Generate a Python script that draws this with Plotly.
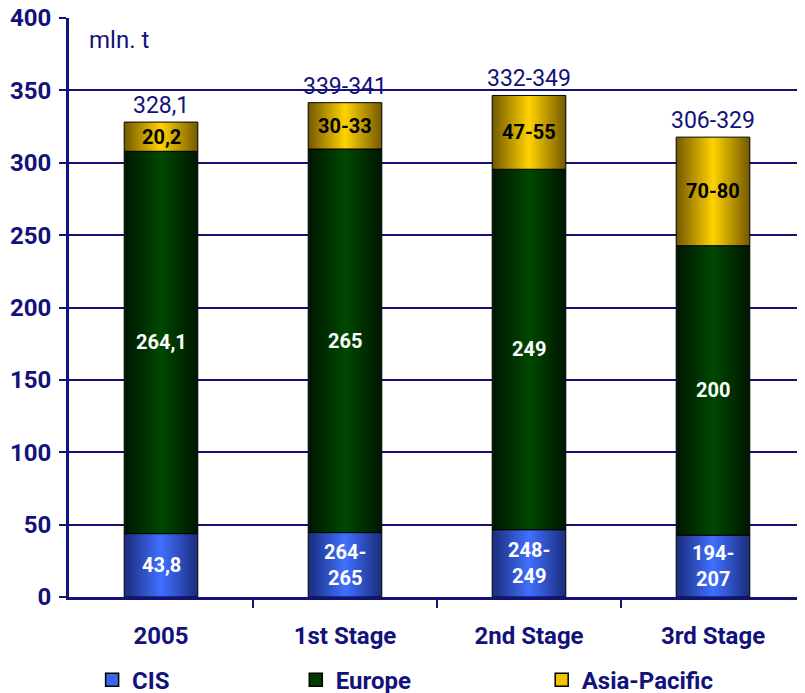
import plotly.graph_objects as go

categories = ["2005", "1st Stage", "2nd Stage", "3rd Stage"]
cis = [43.8, 44.5, 46.5, 42.7]
europe = [264.1, 265, 249, 200]
asia = [20.2, 32, 51, 75]

cis_labels = ["43,8", "264-<br>265", "248-<br>249", "194-<br>207"]
europe_labels = ["264,1", "265", "249", "200"]
asia_labels = ["20,2", "30-33", "47-55", "70-80"]
total_labels = ["328,1", "339-341", "332-349", "306-329"]

y_ticks = [0, 50, 100, 150, 200, 250, 300, 350, 400]

NAVY = "#12127a"
FONT = "Roboto"
HW = 0.2  # half bar width in category units

series = [
    ("CIS", cis, cis_labels, "white",
     [[0, "#1a2c7c"], [0.5, "#4070ff"], [1, "#1a2c7c"]], "#3a66f0", 0.1045),
    ("Europe", europe, europe_labels, "white",
     [[0, "#001600"], [0.5, "#004800"], [1, "#001600"]], "#003a00", 0.3575),
    ("Asia-Pacific", asia, asia_labels, "black",
     [[0, "#745800"], [0.5, "#ffd300"], [1, "#745800"]], "#f0c400", 0.663),
]
legend_ids = ["legend", "legend2", "legend3"]

fig = go.Figure()
annotations = []
bases = [0.0] * len(categories)
legend_layout = {}
for k, (name, vals, labels, tcolor, cscale, solid, lx) in enumerate(series):
    for i, v in enumerate(vals):
        b = bases[i]
        t = b + v
        fig.add_trace(go.Scatter(
            x=[i - HW, i + HW, i + HW, i - HW, i - HW],
            y=[b, b, t, t, b],
            mode="lines", fill="toself",
            fillgradient=dict(type="horizontal", colorscale=cscale),
            line=dict(color="#000000", width=1),
            hoverinfo="skip", showlegend=False,
        ))
        annotations.append(dict(
            x=i, y=(b + t) / 2, xref="x", yref="y", text=labels[i],
            showarrow=False, font=dict(family=FONT, size=20, color=tcolor, weight="bold"),
        ))
        bases[i] = t
    fig.add_trace(go.Scatter(
        x=[None], y=[None], mode="markers", name=name, legend=legend_ids[k],
        marker=dict(symbol="square", size=13, color=solid, line=dict(color="#000000", width=1.5)),
    ))
    legend_layout[legend_ids[k]] = dict(
        orientation="h", xref="container", yref="container",
        x=lx, y=0.03, xanchor="left", yanchor="middle",
        font=dict(family=FONT, size=24, color=NAVY, weight="bold"),
        bgcolor="rgba(0,0,0,0)", itemwidth=30,
    )

for i, lab in enumerate(total_labels):
    annotations.append(dict(
        x=i, y=bases[i], xref="x", yref="y", text=lab, showarrow=False,
        yanchor="bottom", yshift=1,
        font=dict(family=FONT, size=23, color=NAVY),
    ))

annotations.append(dict(
    x=0.0245, y=0.962, xref="paper", yref="paper", text="mln. t", showarrow=False,
    xanchor="left", yanchor="middle", font=dict(family=FONT, size=24, color=NAVY),
))

fig.update_layout(
    width=805, height=693,
    margin=dict(l=61, r=8, t=10, b=104, autoexpand=False),
    plot_bgcolor="white", paper_bgcolor="white",
    annotations=annotations,
    **legend_layout,
    xaxis=dict(
        range=[-0.5, 3.5], tickvals=list(range(len(categories))), ticktext=categories,
        ticks="", showgrid=False, zeroline=False, automargin=False,
        showline=True, linecolor=NAVY, linewidth=3,
        minor=dict(tickvals=[0.5, 1.5, 2.5, 3.5], ticks="outside", ticklen=8,
                   tickwidth=2, tickcolor=NAVY, showgrid=False),
        tickfont=dict(family=FONT, size=24, color=NAVY, weight="bold"),
        ticklabelstandoff=15, fixedrange=True,
    ),
    yaxis=dict(
        range=[0, 400], tickvals=y_ticks, ticks="outside", ticklen=7, tickwidth=2,
        tickcolor=NAVY, showgrid=True, gridcolor=NAVY, gridwidth=2, zeroline=False,
        showline=True, linecolor=NAVY, linewidth=3, automargin=False,
        tickfont=dict(family=FONT, size=24, color=NAVY, weight="bold"),
        ticklabelstandoff=3, ticklabeloverflow="allow", fixedrange=True,
    ),
)

fig.write_html("out.html")
